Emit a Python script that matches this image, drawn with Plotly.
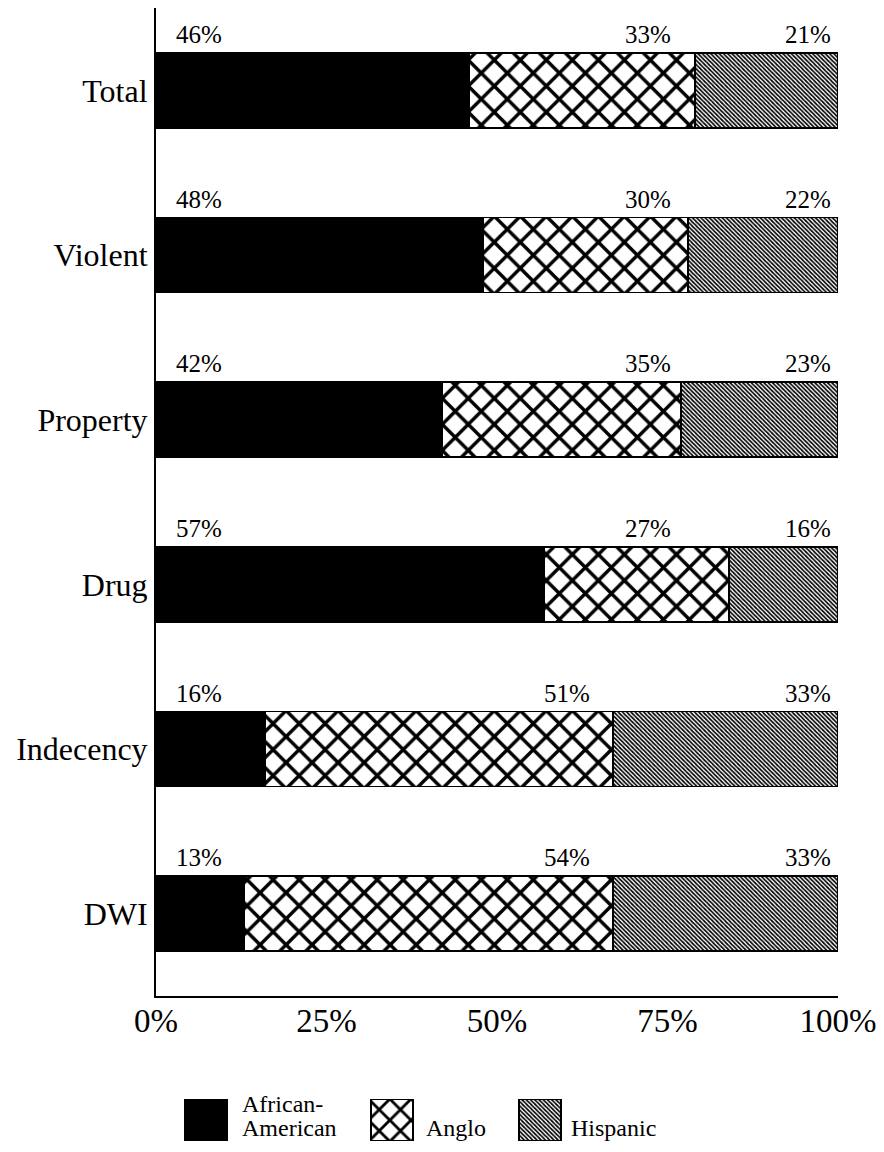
import plotly.graph_objects as go

# ---- data ----
categories = ["Total", "Violent", "Property", "Drug", "Indecency", "DWI"]
series_names = ["African-American", "Anglo", "Hispanic"]
african_american = [46, 48, 42, 57, 16, 13]
anglo = [33, 30, 35, 27, 51, 54]
hispanic = [21, 22, 23, 16, 33, 33]
x_tickvals = [0, 25, 50, 75, 100]
x_ticktext = ["0%", "25%", "50%", "75%", "100%"]

# ---- layout constants (pixels, page coordinates) ----
PAGE_W, PAGE_H = 884, 1152
OFF = 8                         # default body margin of the html page
W, H = PAGE_W - 2 * OFF, PAGE_H - 2 * OFF
FONT = "Liberation Serif"
PX_L, PX_R = 156, 838           # plot x extent (page px)
PX_T, PX_B = 8, 996             # plot y extent (page px)
BAR_W = 0.455

# label positions (in % units of the x axis) for the value labels
black_label_x = 2.6
anglo_label_x = [75.8, 75.8, 75.8, 75.8, 64.0, 64.0]
hisp_label_x = 99.2
LABEL_SHIFT = 56  # px above bar centre

# legend layout (page px)
leg_box_x = [206, 392, 540]
leg_box_w = 42
leg_box_top, leg_box_bot = 1099, 1141


def fx(px):
    return (px - OFF) / W


def fy(py):
    return min(1.0, max(0.0, 1 - (py - OFF) / H))


solid_black = dict(color="black", line=dict(color="black", width=1.5))
anglo_marker = dict(color="white",
                    pattern=dict(shape="x", size=18.4, solidity=0.34,
                                 fgcolor="black", bgcolor="white"),
                    line=dict(color="black", width=1.5))
hisp_marker = dict(color="white",
                   pattern=dict(shape="\\", size=3, solidity=0.55,
                                fgcolor="black", bgcolor="white"),
                   line=dict(color="black", width=1.5))

fig = go.Figure()
fig.add_bar(y=categories, x=african_american, orientation="h", name=series_names[0],
            marker=solid_black, width=BAR_W, showlegend=False)
fig.add_bar(y=categories, x=anglo, orientation="h", name=series_names[1],
            marker=anglo_marker, width=BAR_W, showlegend=False)
fig.add_bar(y=categories, x=hispanic, orientation="h", name=series_names[2],
            marker=hisp_marker, width=BAR_W, showlegend=False)

# legend swatches drawn in an auxiliary, invisible subplot
leg_anglo = dict(anglo_marker)
leg_anglo["pattern"] = dict(shape="x", size=15, solidity=0.34, fgcolor="black", bgcolor="white")
for i, mk in enumerate([solid_black, leg_anglo, hisp_marker]):
    fig.add_bar(x=[leg_box_x[i] - OFF], y=[1], width=leg_box_w, marker=mk,
                xaxis="x2", yaxis="y2", showlegend=False, hoverinfo="skip",
                name=series_names[i])

annotations = []
lab_font = dict(family=FONT, size=25, color="black")
for i, cat in enumerate(categories):
    annotations.append(dict(x=black_label_x, y=cat, xref="x", yref="y",
                            text=f"{african_american[i]}%", showarrow=False,
                            xanchor="left", yanchor="middle", yshift=LABEL_SHIFT, font=lab_font))
    annotations.append(dict(x=anglo_label_x[i], y=cat, xref="x", yref="y",
                            text=f"{anglo[i]}%", showarrow=False,
                            xanchor="right", yanchor="middle", yshift=LABEL_SHIFT, font=lab_font))
    annotations.append(dict(x=hisp_label_x, y=cat, xref="x", yref="y",
                            text=f"{hispanic[i]}%", showarrow=False,
                            xanchor="right", yanchor="middle", yshift=LABEL_SHIFT, font=lab_font))

leg_font = dict(family=FONT, size=24, color="black")
leg_text = [("African-", 241, 1104), ("American", 241, 1128),
            ("Anglo", 425, 1128), ("Hispanic", 570, 1128)]
for txt, px, py in leg_text:
    annotations.append(dict(x=fx(px), y=fy(py), xref="paper", yref="paper",
                            text=txt, showarrow=False, xanchor="left", yanchor="middle",
                            font=leg_font, borderpad=0))

fig.update_layout(
    width=W, height=H,
    margin=dict(l=0, r=0, t=0, b=0),
    barmode="stack",
    template="none",
    paper_bgcolor="white", plot_bgcolor="white",
    showlegend=False,
    annotations=annotations,
    xaxis=dict(domain=[fx(PX_L), fx(PX_R)], range=[0, 100],
               tickvals=x_tickvals, ticktext=x_ticktext,
               tickfont=dict(family=FONT, size=33, color="black"),
               showline=True, linecolor="black", linewidth=2,
               showgrid=False, zeroline=False, ticks="", ticklabelstandoff=-6,
               ticklabeloverflow="allow",
               automargin=False, anchor="y", fixedrange=True),
    yaxis=dict(domain=[fy(PX_B), fy(PX_T)], range=[5.5, -0.5],
               categoryorder="array", categoryarray=categories,
               tickfont=dict(family=FONT, size=32, color="black"),
               showline=True, linecolor="black", linewidth=2,
               showgrid=False, zeroline=False, ticks="", ticklabelstandoff=0,
               ticklabeloverflow="allow",
               automargin=False, anchor="x", fixedrange=True),
    xaxis2=dict(domain=[0, 1], range=[0, W], visible=False, anchor="y2", fixedrange=True),
    yaxis2=dict(domain=[fy(leg_box_bot), fy(leg_box_top)], range=[0, 1],
                visible=False, anchor="x2", fixedrange=True),
)

fig.write_html("out.html")
